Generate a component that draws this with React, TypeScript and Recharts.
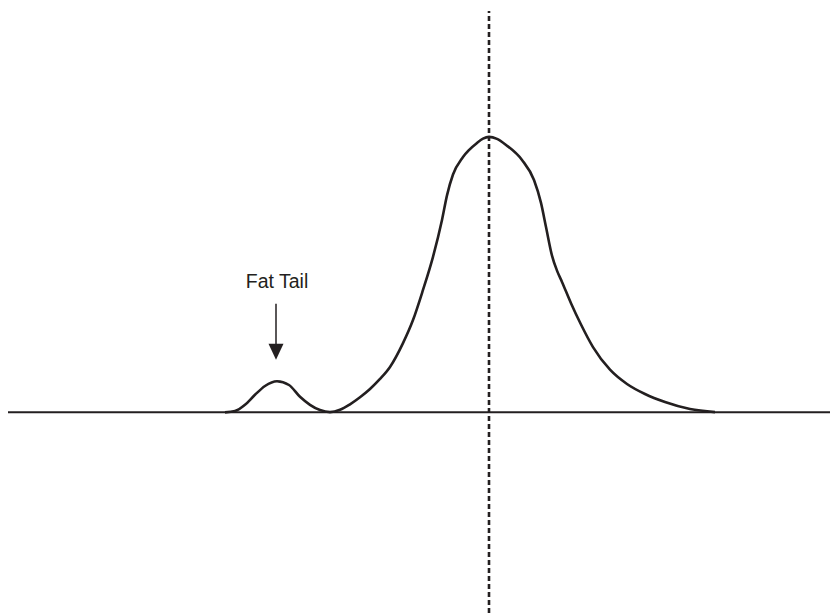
import React from "react";
import { ComposedChart, Line, XAxis, YAxis, ReferenceLine, ReferenceDot } from "recharts";

// distribution curve, x in standard units (0 = mean), y = density
const curveX = [
  -2.64, -2.54, -2.44, -2.34, -2.24, -2.12, -2.0, -1.89, -1.79, -1.69, -1.59,
  -1.49, -1.39, -1.29, -1.19, -1.09, -0.99, -0.86, -0.76, -0.66, -0.56, -0.47,
  -0.42, -0.36, -0.26, -0.12, -0.06, 0, 0.08, 0.17, 0.33, 0.45, 0.52, 0.57, 0.63,
  0.68, 0.73, 0.82, 0.92, 1.04, 1.21, 1.38, 1.56, 1.76, 2.01, 2.26,
];
const curveY = [
  0, 0.005, 0.03, 0.07, 0.105, 0.124, 0.109, 0.062, 0.03, 0.009, 0.001,
  0.01, 0.032, 0.06, 0.093, 0.133, 0.181, 0.276, 0.368, 0.488, 0.62, 0.767,
  0.865, 0.948, 1.018, 1.074, 1.091, 1.098, 1.09, 1.066, 1.006, 0.926, 0.835, 0.739, 0.625,
  0.565, 0.52, 0.435, 0.35, 0.26, 0.17, 0.113, 0.073, 0.041, 0.013, 0.001,
];

const meanX = 0;
const tailX = -2.13;
const tailLabel = "Fat Tail";

const data = curveX.map((x, i) => ({ x, y: curveY[i] }));

const INK = "#231f20";

// arrow pointing down at the tail bump, with its caption above
const TailArrow = (props: any) => {
  const { cx, cy } = props;
  if (cx == null || cy == null) return null;
  return (
    <g>
      <text
        x={cx + 1}
        y={cy - 72}
        textAnchor="middle"
        fontFamily="'Liberation Sans', Arial, sans-serif"
        fontSize={19.5}
        fill={INK}
      >
        {tailLabel}
      </text>
      <line x1={cx} y1={cy - 56} x2={cx} y2={cy - 14} stroke={INK} strokeWidth={1.5} />
      <path d={`M ${cx - 7.5} ${cy - 16} L ${cx + 7.5} ${cy - 16} L ${cx} ${cy} Z`} fill={INK} />
    </g>
  );
};

export default function App() {
  return (
    <div style={{ position: "fixed", left: 0, top: 0, background: "#fff" }}>
      <ComposedChart
        width={830}
        height={613}
        data={data}
        margin={{ top: 11, right: 0, left: 8, bottom: 0 }}
      >
        <XAxis type="number" dataKey="x" domain={[-4.81, 3.41]} hide />
        <YAxis type="number" domain={[-0.8, 1.6]} hide allowDataOverflow />
        <ReferenceLine y={0} stroke={INK} strokeWidth={2} />
        <Line
          type="monotone"
          dataKey="y"
          stroke={INK}
          strokeWidth={2.6}
          dot={false}
          activeDot={false}
          isAnimationActive={false}
        />
        <ReferenceLine x={meanX} stroke={INK} strokeWidth={2.6} strokeDasharray="5 3" />
        <ReferenceDot x={tailX} y={0.21} shape={TailArrow} />
      </ComposedChart>
    </div>
  );
}
